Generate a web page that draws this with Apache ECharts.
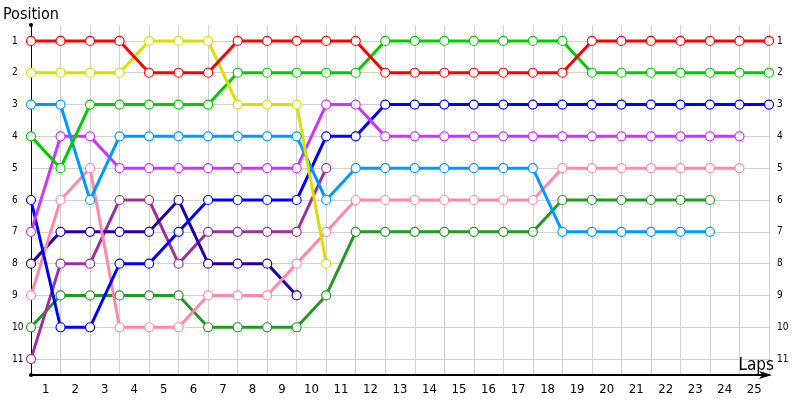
<!DOCTYPE html>
<html><head><meta charset="utf-8">
<script src="https://cdn.jsdelivr.net/npm/echarts@6/dist/echarts.min.js"></script>
<style>html,body{margin:0;padding:0;background:#fff}#c{width:800px;height:400px}</style>
</head><body><div id="c"></div>
<script>
const lapLabels = ['1','2','3','4','5','6','7','8','9','10','11','12','13','14','15','16','17','18','19','20','21','22','23','24','25'];
const positionTicks = [1,2,3,4,5,6,7,8,9,10,11];

const redPos    = [1,1,1,1,2,2,2,1,1,1,1,1,2,2,2,2,2,2,2,1,1,1,1,1,1,1];
const yellowPos = [2,2,2,2,1,1,1,3,3,3,8];
const greenPos  = [4,5,3,3,3,3,3,2,2,2,2,2,1,1,1,1,1,1,1,2,2,2,2,2,2,2];
const skyPos    = [3,3,6,4,4,4,4,4,4,4,6,5,5,5,5,5,5,5,7,7,7,7,7,7];
const violetPos = [7,4,4,5,5,5,5,5,5,5,3,3,4,4,4,4,4,4,4,4,4,4,4,4,4];
const pinkPos   = [9,6,5,10,10,10,9,9,9,8,7,6,6,6,6,6,6,6,5,5,5,5,5,5,5];
const bluePos   = [6,10,10,8,8,7,6,6,6,6,4,4,3,3,3,3,3,3,3,3,3,3,3,3,3,3];
const navyPos   = [8,7,7,7,7,6,8,8,8,9];
const plumPos   = [11,8,8,6,6,8,7,7,7,7,5];
const forestPos = [10,9,9,9,9,9,10,10,10,10,9,7,7,7,7,7,7,7,6,6,6,6,6,6];

const seriesDefs = [
  ['Forest', forestPos, '#229922'],
  ['Plum', plumPos, '#993399'],
  ['Navy', navyPos, '#2200aa'],
  ['Pink', pinkPos, '#ff88aa'],
  ['Blue', bluePos, '#0000ff'],
  ['Violet', violetPos, '#cc33ff'],
  ['Sky', skyPos, '#0099ff'],
  ['Green', greenPos, '#00cc00'],
  ['Yellow', yellowPos, '#dddd00'],
  ['Red', redPos, '#ff0000']
];

const FONT = "'DejaVu Sans Condensed', 'Liberation Sans', sans-serif";

const chart = echarts.init(document.getElementById('c'), null, {renderer: 'canvas'});
chart.setOption({
  animation: false,
  backgroundColor: '#fff',
  grid: {left: 31, right: 31, top: 25, bottom: 25, containLabel: false, outerBoundsMode: 'none'},
  xAxis: [
    {
      type: 'value', min: 0, max: 25, interval: 1, position: 'bottom',
      name: 'Laps', nameLocation: 'end', nameGap: 5, nameMoveOverlap: false,
      nameTextStyle: {fontFamily: FONT, fontSize: 17, color: '#000', align: 'right', verticalAlign: 'bottom', padding: [0, 0, 1, 0]},
      axisLine: {show: true, onZero: false, lineStyle: {color: '#000', width: 2}, symbol: ['none', 'arrow'], symbolSize: [6, 13], symbolOffset: [0, 3]},
      axisTick: {show: false},
      axisLabel: {show: false},
      splitLine: {show: true, lineStyle: {color: '#d0d0d0', width: 1}}
    },
    {
      type: 'category', data: lapLabels, boundaryGap: true, position: 'bottom',
      axisLine: {show: false}, axisTick: {show: false}, splitLine: {show: false},
      axisLabel: {show: true, margin: 8, fontFamily: FONT, fontSize: 13, color: '#000', interval: 0}
    }
  ],
  yAxis: [
    {
      type: 'value', min: 0.5, max: 11.5, inverse: true, position: 'left',
      name: 'Position', nameLocation: 'start', nameGap: 2, nameMoveOverlap: false,
      nameTextStyle: {fontFamily: FONT, fontSize: 16, color: '#000', align: 'center', verticalAlign: 'bottom'},
      axisLine: {show: true, lineStyle: {color: '#000', width: 1}, symbol: ['circle', 'circle'], symbolSize: [4, 4]},
      axisTick: {show: false, customValues: positionTicks},
      axisLabel: {show: true, customValues: positionTicks, align: 'left', margin: 19, fontFamily: FONT, fontSize: 10, color: '#000'},
      splitLine: {show: true, lineStyle: {color: '#d0d0d0', width: 1}}
    },
    {
      type: 'value', min: 0.5, max: 11.5, inverse: true, position: 'right',
      axisLine: {show: false},
      axisTick: {show: false, customValues: positionTicks},
      axisLabel: {show: true, customValues: positionTicks, align: 'left', margin: 8, fontFamily: FONT, fontSize: 10, color: '#000'},
      splitLine: {show: false}
    }
  ],
  series: seriesDefs.map(([name, arr, color]) => ({
    name: name,
    type: 'line',
    xAxisIndex: 0, yAxisIndex: 0,
    data: arr.map((v, i) => [i, v]),
    symbol: 'circle',
    symbolSize: 9,
    showAllSymbol: true,
    lineStyle: {color: color, width: 3},
    itemStyle: {color: '#fff', borderColor: color, borderWidth: 1.2, opacity: 1},
    emphasis: {disabled: true}
  }))
});
</script>
</body></html>
